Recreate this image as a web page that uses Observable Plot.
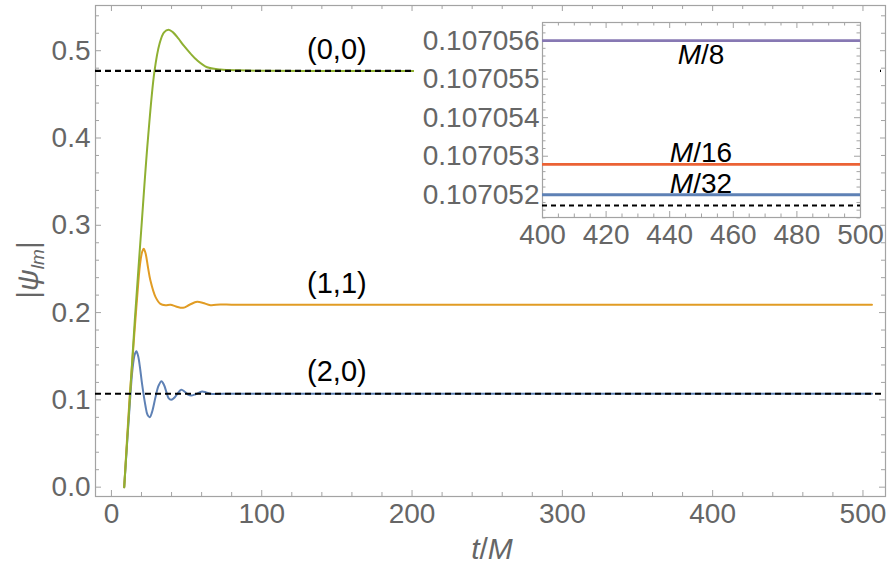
<!DOCTYPE html>
<html><head><meta charset="utf-8">
<script src="https://cdn.jsdelivr.net/npm/d3@7"></script>
<script src="https://cdn.jsdelivr.net/npm/@observablehq/plot@0.6"></script>
<style>
body{margin:0;background:#fff;}
#wrap{position:relative;width:887px;height:575px;font-family:"Liberation Sans",Arial,sans-serif;}
#inset{position:absolute;left:414px;top:13px;background:#fff;}
svg{overflow:visible;}
</style></head><body><div id="wrap"><div id="main"></div><div id="inset"></div></div>
<script>
// ---- main series: |psi_lm| vs t/M ----
const t00 = [8.5, 12, 15.5, 19.8, 24.2, 28.6, 32, 35, 38, 41, 44.5, 48, 52.5, 57, 63.7, 72.5, 85, 100, 130, 200, 300, 400, 506];
const psi00 = [0, 0.095, 0.19, 0.294, 0.397, 0.476, 0.508, 0.521, 0.524, 0.521, 0.514, 0.506, 0.497, 0.489, 0.481, 0.4785, 0.4775, 0.477, 0.4768, 0.4768, 0.4768, 0.4768, 0.4768];
const t11 = [8.5, 12, 15, 17, 19, 20.5, 21.5, 22.7, 24.3, 25.9, 29.3, 32.6, 36, 39.3, 43, 47.7, 52, 57, 61, 65.9, 72.5, 80, 100, 200, 300, 400, 506];
const psi11 = [0, 0.1, 0.17, 0.215, 0.255, 0.27, 0.273, 0.268, 0.252, 0.237, 0.218, 0.210, 0.2085, 0.209, 0.207, 0.2055, 0.209, 0.2124, 0.211, 0.2085, 0.2093, 0.209, 0.209, 0.209, 0.209, 0.209, 0.209];
const t20 = [8.5, 12, 14, 15.5, 16.6, 17.8, 19, 20.4, 22.6, 24, 25.5, 27, 29.3, 31.3, 33.3, 35, 36.6, 38, 39.7, 41.5, 43.5, 46.4, 49, 51, 53, 56, 60.3, 63, 66, 70, 80, 100, 200, 300, 400, 506];
const psi20 = [0, 0.09, 0.135, 0.152, 0.1558, 0.15, 0.137, 0.118, 0.0936, 0.083, 0.0802, 0.086, 0.103, 0.116, 0.1214, 0.117, 0.1088, 0.102, 0.1001, 0.102, 0.106, 0.1116, 0.109, 0.106, 0.105, 0.1065, 0.1096, 0.1085, 0.107, 0.1068, 0.1071, 0.1070, 0.1070, 0.1070, 0.1070, 0.1070];
const dashedRef = [0.4768, 0.1070];
const curveLabels = ["(0,0)", "(1,1)", "(2,0)"];
const curveLabelT = [150, 150, 150];
const curveLabelV = [0.501, 0.233, 0.132];
const xTicks = [0, 100, 200, 300, 400, 500];
const yTicks = [0, 0.1, 0.2, 0.3, 0.4, 0.5];

// ---- inset: late-time |psi_20| for three resolutions ----
const insetRes = ["M/8", "M/16", "M/32"];
const insetVal = [0.107056, 0.10705279, 0.1070520];
const insetExact = [0.10705172];
const insetLabelV = [0.10705564, 0.1070531, 0.1070523];
const insetXTicks = [400, 420, 440, 460, 480, 500];
const insetYTicks = [0.107052, 0.107053, 0.107054, 0.107055, 0.107056];

const C = {blue:"#5E81B5", orange:"#E19C24", green:"#8FB032", red:"#EB6235", purple:"#8778B3"};
const frameCol = "#a3a3a3", labCol = "#666666";
const FONT = '"Liberation Sans", Arial, sans-serif';
const zip = (t, v) => t.map((d, i) => ({t: d, v: v[i]}));

function ticksXY(xMaj, xMin, yMaj, yMin, iw, ih, majL, minL) {
  return [
    Plot.tickX(xMaj, {x: d => d, insetTop: ih - majL, stroke: frameCol}),
    Plot.tickX(xMin, {x: d => d, insetTop: ih - minL, stroke: frameCol}),
    Plot.tickX(xMaj, {x: d => d, insetBottom: ih - majL, stroke: frameCol}),
    Plot.tickX(xMin, {x: d => d, insetBottom: ih - minL, stroke: frameCol}),
    Plot.tickY(yMaj, {y: d => d, insetRight: iw - majL, stroke: frameCol}),
    Plot.tickY(yMin, {y: d => d, insetRight: iw - minL, stroke: frameCol}),
    Plot.tickY(yMaj, {y: d => d, insetLeft: iw - majL, stroke: frameCol}),
    Plot.tickY(yMin, {y: d => d, insetLeft: iw - minL, stroke: frameCol}),
  ];
}

// main
const W = 887, H = 575, mL = 95, mR = 2, mT = 5, mB = 79;
const innerW = W - mL - mR, innerH = H - mT - mB;
const xMinor = d3.range(0, 501, 20).filter(d => d % 100 !== 0);
const yMinor = d3.range(0, 28).map(i => i * 0.02).filter((d, i) => i % 5 !== 0);

const main = Plot.plot({
  width: W, height: H, marginLeft: mL, marginRight: mR, marginTop: mT, marginBottom: mB,
  style: {fontFamily: FONT, background: "white"},
  x: {domain: [-10.6, 515]},
  y: {domain: [-0.0107, 0.5518]},
  marks: [
    ...ticksXY(xTicks, xMinor, yTicks, yMinor, innerW, innerH, 6, 4),
    Plot.frame({stroke: frameCol, strokeWidth: 1.2}),
    Plot.axisX(xTicks, {tickSize: 0, tickPadding: 7, fontSize: 28, fill: labCol, label: null}),
    Plot.axisY(yTicks, {tickSize: 0, tickPadding: 5, fontSize: 28, fill: labCol, label: null, tickFormat: d => d.toFixed(1)}),
    Plot.line(zip(t20, psi20), {x: "t", y: "v", stroke: C.blue, strokeWidth: 2, curve: "catmull-rom"}),
    Plot.line(zip(t11, psi11), {x: "t", y: "v", stroke: C.orange, strokeWidth: 2, curve: "catmull-rom"}),
    Plot.line(zip(t00, psi00), {x: "t", y: "v", stroke: C.green, strokeWidth: 2, curve: "catmull-rom"}),
    Plot.ruleY(dashedRef, {stroke: "black", strokeWidth: 2.2, strokeDasharray: "6,4"}),
    Plot.text(curveLabels, {x: (d, i) => curveLabelT[i], y: (d, i) => curveLabelV[i], text: d => d, fontSize: 29, fill: "black"})
  ]
});
document.getElementById("main").appendChild(main);

const svgM = d3.select(main);
// x label t/M
const xl = svgM.append("text").attr("x", mL + innerW / 2 + 2).attr("y", 559)
  .attr("text-anchor", "middle").attr("font-size", 30).attr("fill", labCol);
xl.append("tspan").attr("font-style", "italic").text("t");
xl.append("tspan").text("/");
xl.append("tspan").attr("font-style", "italic").text("M");
// y label |psi_lm|
const yl = svgM.append("text").attr("transform", "translate(38,270) rotate(-90)")
  .attr("text-anchor", "middle").attr("font-size", 30).attr("fill", labCol);
yl.append("tspan").text("|");
yl.append("tspan").attr("font-style", "italic").text("ψ");
yl.append("tspan").attr("font-style", "italic").attr("font-size", 19).attr("dy", 6).text("lm");
yl.append("tspan").attr("dy", -6).text("|");

// inset
const iW = 466, iH = 242, imL = 128, imR = 20, imT = 9, imB = 38;
const iiW = iW - imL - imR, iiH = iH - imT - imB;
const ixMinor = d3.range(400, 501, 5).filter(d => d % 20 !== 0);
const iyMinor = d3.range(0, 26).map(i => 0.1070514 + i * 2e-7).filter(d => Math.abs(Math.round(d * 1e6) - d * 1e6) > 0.05);
const inset = Plot.plot({
  width: iW, height: iH, marginLeft: imL, marginRight: imR, marginTop: imT, marginBottom: imB,
  style: {fontFamily: FONT, background: "white", overflow: "visible"},
  x: {domain: [400, 500]},
  y: {domain: [0.10705141, 0.10705647]},
  marks: [
    ...ticksXY(insetXTicks, ixMinor, insetYTicks, iyMinor, iiW, iiH, 6, 3.5),
    Plot.frame({stroke: frameCol, strokeWidth: 1.2}),
    Plot.axisX(insetXTicks, {tickSize: 0, tickPadding: 7, fontSize: 28, fill: labCol, label: null}),
    Plot.axisY(insetYTicks, {tickSize: 0, tickPadding: 3, fontSize: 28, fill: labCol, label: null, tickFormat: d => d.toFixed(6)}),
    Plot.ruleY(insetVal, {y: d => d, stroke: (d, i) => [C.purple, C.red, C.blue][i], strokeWidth: 2.8}),
    Plot.ruleY(insetExact, {stroke: "black", strokeWidth: 2, strokeDasharray: "5,4"})
  ]
});
document.getElementById("inset").appendChild(inset);
const sx = inset.scale("x"), sy = inset.scale("y");
const svgI = d3.select(inset);
insetRes.forEach((r, i) => {
  const parts = r.split("/");
  const tx = svgI.append("text").attr("x", sx.apply(450)).attr("y", sy.apply(insetLabelV[i]))
    .attr("text-anchor", "middle").attr("dominant-baseline", "central").attr("font-size", 28).attr("fill", "black");
  tx.append("tspan").attr("font-style", "italic").text(parts[0]);
  tx.append("tspan").text("/" + parts[1]);
});
</script></body></html>
